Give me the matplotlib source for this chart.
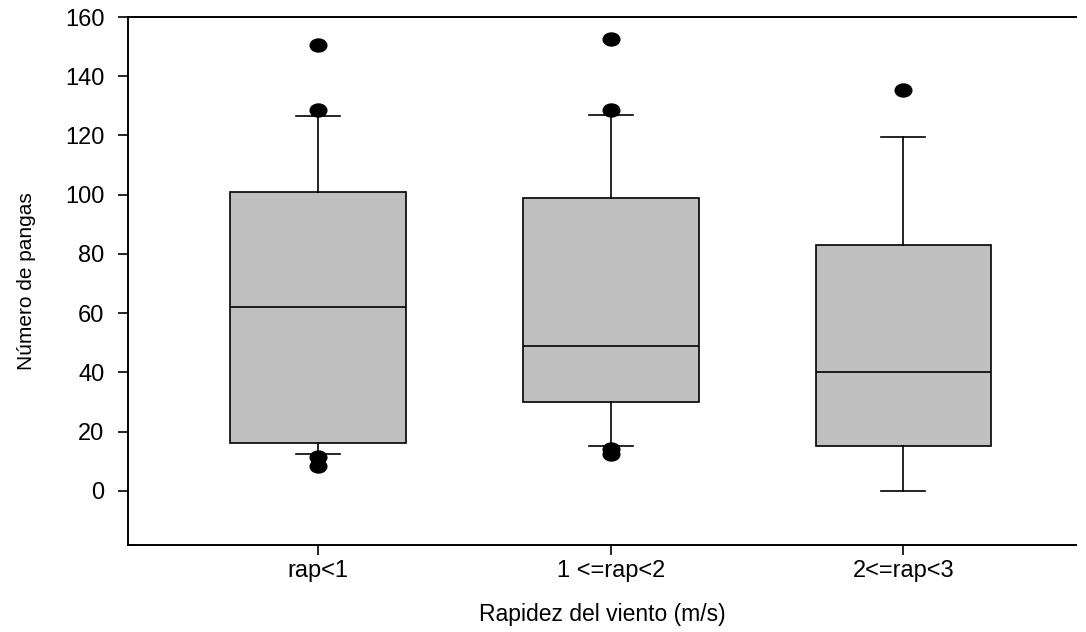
import matplotlib.pyplot as plt
from matplotlib.path import Path
from matplotlib.transforms import Affine2D

plt.rcParams['font.family'] = ['Liberation Sans', 'DejaVu Sans']

# Données
categories = ['rap<1', '1 <=rap<2', '2<=rap<3']
q1 = [16, 30, 15]
medians = [62, 49, 40]
q3 = [101, 99, 83]
whisker_low = [12.5, 15, 0]
whisker_high = [126.5, 127, 119.5]
outliers = [[150.5, 128.5, 11.5, 8.5], [152.5, 128.5, 14, 12.5], [135.5]]

stats = []
for i in range(len(categories)):
    stats.append({
        'label': categories[i],
        'q1': q1[i], 'med': medians[i], 'q3': q3[i],
        'whislo': whisker_low[i], 'whishi': whisker_high[i],
        'fliers': outliers[i],
    })

# marqueur ovale (plus large que haut)
ellipse = Path.unit_circle().transformed(Affine2D().scale(1.0, 0.78))

fig = plt.figure(figsize=(10.86, 6.32), dpi=100)
ax = fig.add_axes([128 / 1086, 1 - 545 / 632, (1076 - 128) / 1086, (545 - 17) / 632])

ax.bxp(stats, positions=[1, 2, 3], widths=0.6, patch_artist=True,
       boxprops=dict(facecolor='#c0c0c0', edgecolor='black', linewidth=1.2),
       medianprops=dict(color='black', linewidth=1.2),
       whiskerprops=dict(color='black', linewidth=1.2),
       capprops=dict(color='black', linewidth=1.2),
       capwidths=0.15,
       flierprops=dict(marker=ellipse, markerfacecolor='black', markeredgecolor='black',
                       markersize=12, linestyle='none'))

ax.set_xlim(0.35, 3.59)
ax.set_ylim(-18.3, 160)
ax.set_yticks(range(0, 161, 20))
ax.set_xticks([1, 2, 3])
ax.set_xticklabels(categories)

ax.spines['right'].set_visible(False)
for s in ['left', 'top', 'bottom']:
    ax.spines[s].set_linewidth(1.4)
ax.tick_params(axis='both', labelsize=17, direction='out', length=7, width=1.2)
ax.tick_params(axis='x', pad=4)
ax.tick_params(axis='y', pad=10)

ax.set_xlabel('Rapidez del viento (m/s)', fontsize=16.5, labelpad=15)
ax.set_ylabel('Número de pangas', fontsize=15, labelpad=21)

plt.savefig('out.png', dpi=100)
